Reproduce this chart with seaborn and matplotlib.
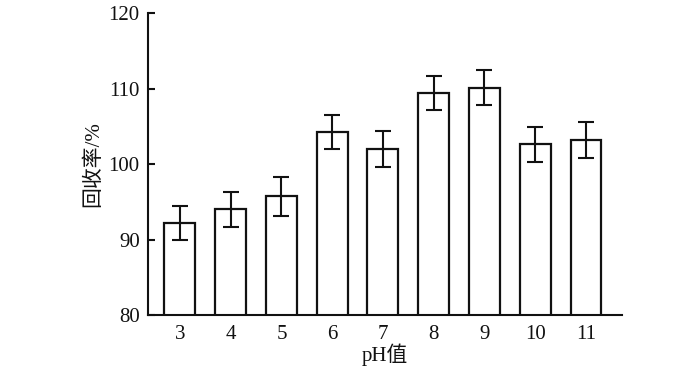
import matplotlib
matplotlib.use("Agg")
import matplotlib.pyplot as plt
import seaborn as sns
import pandas as pd

ph = ["3", "4", "5", "6", "7", "8", "9", "10", "11"]
recovery = [92.2, 94.0, 95.7, 104.3, 102.0, 109.4, 110.1, 102.6, 103.2]
error = [2.3, 2.3, 2.6, 2.25, 2.35, 2.25, 2.3, 2.3, 2.35]

sns.set_theme(style="ticks")
plt.rcParams['font.family'] = ['Liberation Serif', 'Noto Sans CJK SC', 'DejaVu Sans']

df = pd.DataFrame({"pH": ph, "rec": recovery})

fig = plt.figure(figsize=(7.0, 3.72), dpi=100)
ax = fig.add_axes([0.2114, 0.1532, 0.6772, 0.8118])

sns.barplot(data=df, x="pH", y="rec", ax=ax, color="white", edgecolor="#111111",
            linewidth=1.6, width=0.61, errorbar=None)
ax.errorbar(range(len(ph)), recovery, yerr=error, fmt="none", ecolor="#111111",
            elinewidth=1.5, capsize=5.5, capthick=1.5)

ax.set_ylim(80, 120)
ax.set_yticks([80, 90, 100, 110, 120])
ax.set_xlim(-0.63, 8.71)
for s in ["top", "right"]:
    ax.spines[s].set_visible(False)
for s in ["left", "bottom"]:
    ax.spines[s].set_linewidth(1.5)
    ax.spines[s].set_color("#111111")
ax.tick_params(axis="y", direction="in", length=5, width=1.5, labelsize=15, pad=6, colors="#111111")
ax.tick_params(axis="x", length=0, labelsize=15, pad=7, colors="#111111")
ax.set_xlabel("pH值", fontsize=15, labelpad=0, color="#111111")
ax.set_ylabel("回收率/%", fontsize=15, labelpad=4, color="#111111")

fig.savefig("out.png", dpi=100)
